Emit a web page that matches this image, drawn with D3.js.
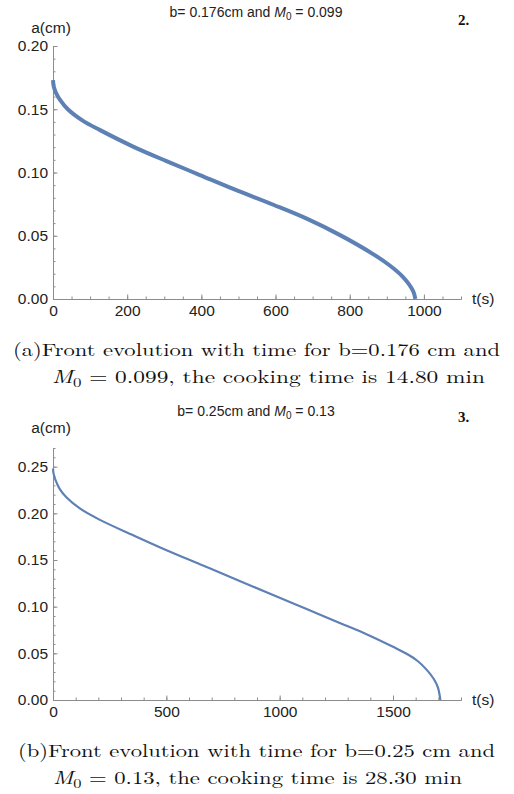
<!DOCTYPE html>
<html>
<head>
<meta charset="utf-8">
<script src="https://cdn.jsdelivr.net/npm/d3@7"></script>
<style>
  body { margin: 0; background: #fff; }
  svg { display: block; }
</style>
</head>
<body>
<div id="chart"></div>
<script>
// panel (a): b = 0.176 cm, M0 = 0.099
var timeA   = [0, 2, 8, 20, 40, 80, 127, 216, 306, 396, 486, 594, 684, 774, 863, 908, 940, 960, 972, 977];
var frontA  = [0.173, 0.168, 0.163, 0.157, 0.150, 0.141, 0.1335, 0.1205, 0.109, 0.098, 0.087, 0.0745, 0.0635, 0.0505, 0.0355, 0.0265, 0.0185, 0.0115, 0.0055, 0];
var xTicksA = [0, 200, 400, 600, 800, 1000];
var yTicksA = [0, 0.05, 0.10, 0.15, 0.20];

// panel (b): b = 0.25 cm, M0 = 0.13
var timeB   = [0, 3, 12, 30, 60, 120, 207, 354, 501, 648, 795, 971, 1119, 1265, 1383, 1500, 1560, 1610, 1650, 1680, 1698, 1709];
var frontB  = [0.248, 0.242, 0.235, 0.226, 0.217, 0.205, 0.193, 0.1765, 0.1605, 0.1455, 0.1305, 0.1125, 0.0975, 0.0825, 0.0705, 0.057, 0.0495, 0.0415, 0.032, 0.0225, 0.0135, 0];
var xTicksB = [0, 500, 1000, 1500];
var yTicksB = [0, 0.05, 0.10, 0.15, 0.20, 0.25];

var svg = d3.select("#chart")
  .append("svg")
  .attr("width", 514)
  .attr("height", 794);

var lineColor = "#5e81b5";
var axisColor = "#8c8c8c";

function drawPanel(o) {
  var x = d3.scaleLinear().domain([0, o.xMax]).range([53, 461]);
  var y = d3.scaleLinear().domain([0, o.yMax]).range([o.y0, o.yTop]);

  // minor ticks first
  var gxm = svg.append("g")
    .attr("transform", "translate(0," + o.y0 + ")")
    .call(d3.axisBottom(x).tickValues(d3.range(0, o.xMax + 0.1, o.xMinor)).tickSize(-2.5).tickSizeOuter(0).tickFormat(""));
  var gym = svg.append("g")
    .attr("transform", "translate(53,0)")
    .call(d3.axisLeft(y).tickValues(d3.range(0, o.yMax + 0.0001, 0.01)).tickSize(-2.5).tickSizeOuter(0).tickFormat(""));

  // major ticks + labels
  var gx = svg.append("g")
    .attr("transform", "translate(0," + o.y0 + ")")
    .call(d3.axisBottom(x).tickValues(o.xTicks).tickSize(-4.5).tickSizeOuter(0).tickPadding(6).tickFormat(d3.format("d")));
  var gy = svg.append("g")
    .attr("transform", "translate(53,0)")
    .call(d3.axisLeft(y).tickValues(o.yTicks).tickSize(-4.5).tickSizeOuter(0).tickPadding(5).tickFormat(d3.format(".2f")));

  [gxm, gym, gx, gy].forEach(function (g) {
    g.selectAll("path, line").attr("stroke", axisColor).attr("stroke-width", 1);
    g.selectAll("text")
      .style("font-family", "'Liberation Sans', Arial, sans-serif")
      .style("font-size", "15.5px")
      .attr("fill", "#222");
  });
  gx.selectAll("text").attr("dy", "0.72em");

  // axis names
  svg.append("text")
    .attr("x", 51).attr("y", o.yLabelY)
    .attr("text-anchor", "middle")
    .style("font-family", "'Liberation Sans', Arial, sans-serif")
    .style("font-size", "15.5px")
    .attr("fill", "#222")
    .text("a(cm)");
  svg.append("text")
    .attr("x", 472).attr("y", o.y0 + 5)
    .style("font-family", "'Liberation Sans', Arial, sans-serif")
    .style("font-size", "15.5px")
    .attr("fill", "#222")
    .text("t(s)");

  // the curve
  var pts = o.t.map(function (d, i) { return [d, o.a[i]]; });
  svg.append("path")
    .datum(pts)
    .attr("fill", "none")
    .attr("stroke", lineColor)
    .attr("stroke-width", o.lw)
    .attr("stroke-linecap", "butt")
    .attr("d", d3.line()
      .curve(d3.curveCatmullRom.alpha(0.5))
      .x(function (d) { return x(d[0]); })
      .y(function (d) { return y(d[1]); })
    );

  // plot title
  var title = svg.append("text")
    .attr("x", o.titleX).attr("y", o.titleY)
    .attr("text-anchor", "middle")
    .style("font-family", "'Liberation Sans', Arial, sans-serif")
    .style("font-size", "14px")
    .attr("fill", "#222");
  title.append("tspan").text(o.titleA);
  title.append("tspan").style("font-style", "italic").text("M");
  title.append("tspan").attr("dy", 3).style("font-size", "10px").text("0");
  title.append("tspan").attr("dy", -3).text(o.titleB);

  // page number
  svg.append("text")
    .attr("x", 458).attr("y", o.numY)
    .style("font-family", "'Liberation Serif', 'Times New Roman', serif")
    .style("font-weight", "bold")
    .style("font-size", "15px")
    .attr("fill", "#111")
    .text(o.num);

  // caption (two lines)
  var serif = "'Latin Modern Roman', 'CMU Serif', 'DejaVu Serif', serif";
  svg.append("text")
    .attr("x", o.cap1X).attr("y", o.capY)
    .attr("textLength", o.cap1W)
    .attr("lengthAdjust", "spacingAndGlyphs")
    .style("font-family", serif)
    .style("font-size", "18px")
    .attr("fill", "#111")
    .text(o.cap1);
  var c2 = svg.append("text")
    .attr("x", o.cap2X).attr("y", o.capY + 27.5)
    .attr("textLength", o.cap2W)
    .attr("lengthAdjust", "spacingAndGlyphs")
    .style("font-family", serif)
    .style("font-size", "18px")
    .attr("fill", "#111");
  c2.append("tspan").style("font-style", "italic").text("M");
  c2.append("tspan").attr("dy", 4).style("font-size", "13px").text("0");
  c2.append("tspan").attr("dy", -4).text(o.cap2);
}

drawPanel({
  t: timeA, a: frontA, xTicks: xTicksA, yTicks: yTicksA,
  xMax: 1100, xMinor: 50, yMax: 0.20, y0: 299, yTop: 46, lw: 4,
  yLabelY: 33,
  titleX: 256, titleY: 17, titleA: "b= 0.176cm and ", titleB: " = 0.099",
  num: "2.", numY: 25,
  cap1: "(a)Front evolution with time for b=0.176 cm and", cap1X: 13, cap1W: 487,
  cap2: " = 0.099, the cooking time is 14.80 min", cap2X: 52, cap2W: 433,
  capY: 355.5
});

drawPanel({
  t: timeB, a: frontB, xTicks: xTicksB, yTicks: yTicksB,
  xMax: 1800, xMinor: 100, yMax: 0.27, y0: 700, yTop: 448, lw: 2.2,
  yLabelY: 433,
  titleX: 256, titleY: 416, titleA: "b= 0.25cm and ", titleB: " = 0.13",
  num: "3.", numY: 422,
  cap1: "(b)Front evolution with time for b=0.25 cm and", cap1X: 18, cap1W: 477,
  cap2: " = 0.13, the cooking time is 28.30 min", cap2X: 53, cap2W: 409,
  capY: 756.5
});
</script>
</body>
</html>
